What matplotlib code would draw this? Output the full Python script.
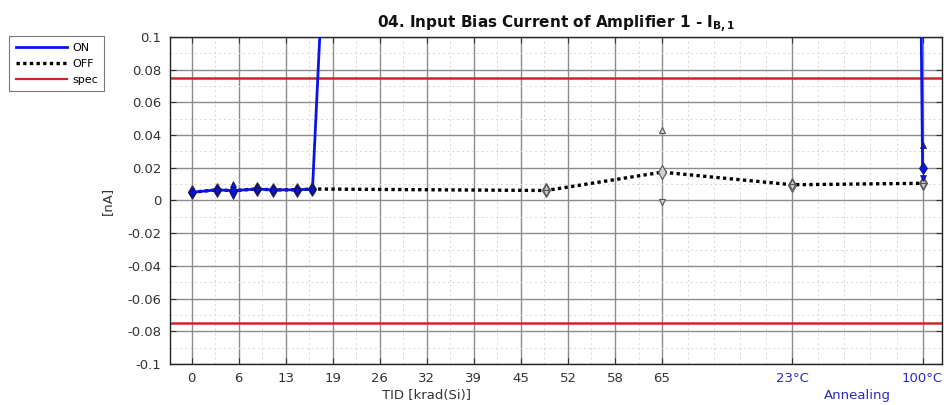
import matplotlib
matplotlib.use("Agg")
import matplotlib.pyplot as plt
from matplotlib.lines import Line2D
import numpy as np

# Measurement positions (krad(Si)); the last two are annealing steps
tid = [0, 3.5, 5.7, 9.0, 11.2, 14.5, 16.7, 49, 65, 83, 101]

# Biased (ON) parts: mean / max / min input bias current [nA]
on_mean = [0.005, 0.0065, 0.006, 0.007, 0.0065, 0.0065, 0.007, 3.0, 5.0, 8.0, 0.020]
on_max  = [0.006, 0.0075, 0.010, 0.008, 0.0075, 0.0075, 0.008, 3.2, 5.5, 8.5, 0.034]
on_min  = [0.004, 0.0055, 0.003, 0.006, 0.0055, 0.0055, 0.006, 2.8, 4.5, 7.5, 0.014]

# Unbiased (OFF) parts: mean / max / min input bias current [nA]
off_mean = [0.005, 0.0065, 0.006, 0.007, 0.0065, 0.0065, 0.007, 0.0061, 0.0173, 0.0096, 0.0105]
off_max  = [0.006, 0.0075, 0.007, 0.008, 0.0075, 0.0075, 0.008, 0.0080, 0.0430, 0.0110, 0.0125]
off_min  = [0.004, 0.0055, 0.005, 0.006, 0.0055, 0.0055, 0.006, 0.0045, -0.0010, 0.0085, 0.0090]

spec_limit = 0.075

tick_pos = [0, 6.5, 13, 19.5, 26, 32.5, 39, 45.5, 52, 58.5, 65, 83, 101]
tick_labels = ['0', '6', '13', '19', '26', '32', '39', '45', '52', '58', '65', '23°C', '100°C']
y_ticks = [0.1, 0.08, 0.06, 0.04, 0.02, 0, -0.02, -0.04, -0.06, -0.08, -0.1]

blue = '#0a14e6'
anneal_blue = '#2b2bc0'
red = '#c8282a'
txt = '#333333'

fig = plt.figure(figsize=(9.44, 4.05), dpi=100)
ax = fig.add_axes([0.180, 0.101, 0.818, 0.808])

# spec limits
ax.axhline(spec_limit, color=red, lw=1.8, zorder=2)
ax.axhline(-spec_limit, color=red, lw=1.8, zorder=2)

# OFF series
ax.plot(tid, off_mean, color='black', lw=2.4, ls=(0, (1, 1)), zorder=3)
ax.plot(tid, off_mean, ls='none', marker='d', ms=7, mfc='#d0d0d0', mec='#555555', mew=0.8, zorder=4)
ax.plot(tid, off_max, ls='none', marker='^', ms=5, mfc='#d0d0d0', mec='#555555', mew=0.8, zorder=4)
ax.plot(tid, off_min, ls='none', marker='v', ms=5, mfc='#d0d0d0', mec='#555555', mew=0.8, zorder=4)

# ON series
ax.plot(tid, on_mean, color=blue, lw=2.0, zorder=5)
ax.plot(tid, on_mean, ls='none', marker='d', ms=6, mfc=blue, mec='#101060', mew=0.6, zorder=6)
ax.plot(tid, on_max, ls='none', marker='^', ms=5, mfc=blue, mec='#101060', mew=0.5, zorder=6)
ax.plot(tid, on_min, ls='none', marker='v', ms=5, mfc=blue, mec='#101060', mew=0.5, zorder=6)

ax.set_xlim(-3.0, 103.7)
ax.set_ylim(-0.1, 0.1)

ax.set_xticks(tick_pos)
ax.set_xticklabels(tick_labels)

minor_x = [p + 3.25 for p in tick_pos[:10]] + list(np.linspace(65, 83, 6)[1:-1]) + list(np.linspace(83, 101, 6)[1:-1])
ax.set_xticks(minor_x, minor=True)
ax.set_yticks(y_ticks)
ax.set_yticklabels([f'{v:g}' for v in y_ticks])
ax.set_yticks(np.arange(-0.09, 0.1, 0.02), minor=True)

ax.grid(True, which='major', color='#8c8c8c', lw=1.0, ls='-', zorder=0)
ax.grid(True, which='minor', color='#d6d6d6', lw=0.7, ls=(0, (2, 3)), zorder=0)
ax.set_axisbelow(True)

ax.tick_params(which='major', direction='in', length=4, top=True, right=True,
               labelsize=9.5, colors=txt, pad=6)
ax.tick_params(which='minor', length=0)
for lab in ax.get_xticklabels()[-2:]:
    lab.set_color(anneal_blue)
for s in ax.spines.values():
    s.set_color('#222222')
    s.set_linewidth(1.0)

ax.set_ylabel('[nA]', fontsize=9.5, color=txt, labelpad=10)
ax.set_title(r'04. Input Bias Current of Amplifier 1 - I$_{\mathbf{B,1}}$',
             fontsize=11, fontweight='bold', color='#111111', pad=6)

# axis captions under the irradiation and annealing parts
ax.text(32.5, -0.1150, 'TID [krad(Si)]', ha='center', va='top', fontsize=9.5, color=txt)
ax.text(92, -0.1150, 'Annealing', ha='center', va='top', fontsize=9.5, color=anneal_blue)

handles = [Line2D([], [], color=blue, lw=2.0),
           Line2D([], [], color='black', lw=2.4, ls=(0, (1, 1))),
           Line2D([], [], color=red, lw=1.6)]
leg = fig.legend(handles, ['ON', 'OFF', 'spec'], loc='upper left',
                 bbox_to_anchor=(0.010, 0.910), fontsize=8, frameon=True,
                 fancybox=False, edgecolor='#555555', handlelength=4.6,
                 borderpad=0.55, labelspacing=0.55, handletextpad=0.5,
                 borderaxespad=0)
leg.get_frame().set_linewidth(0.8)

fig.savefig('out.png', dpi=100)
